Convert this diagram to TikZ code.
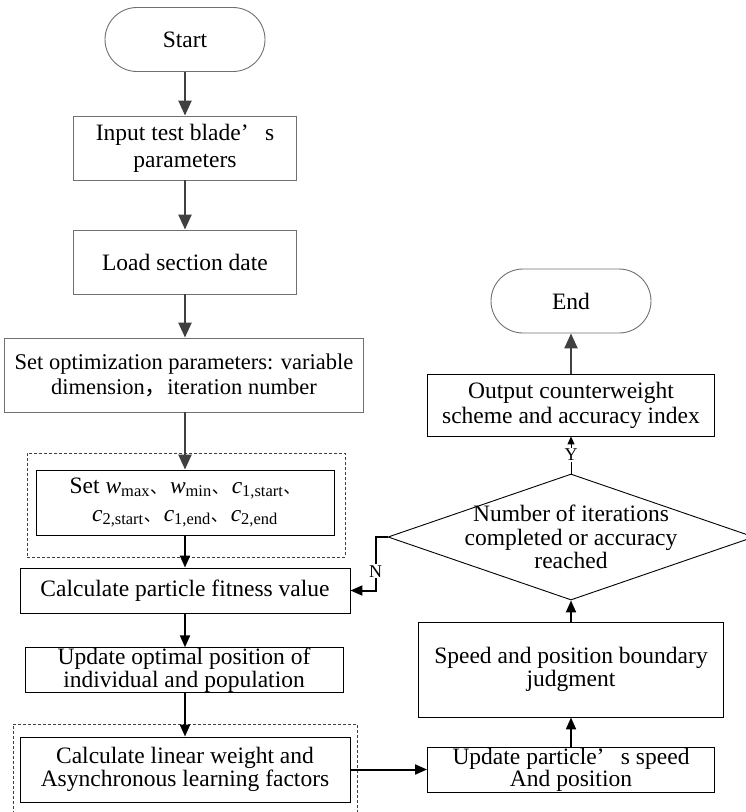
\documentclass[tikz,border=0pt]{standalone}
\usepackage{fontspec}
\setmainfont{Liberation Serif}
\newfontfamily\cjk{Noto Sans CJK SC}
\usetikzlibrary{arrows.meta,shapes.geometric}
\newcommand{\dnmark}{{\cjk\fontsize{17pt}{17pt}\selectfont 、}\hspace{3pt}}
\definecolor{arrgray}{HTML}{404040}
\definecolor{bordgray}{HTML}{707070}
\begin{document}
\begin{tikzpicture}[x=1pt,y=-1pt,
  font=\fontsize{23.5pt}{25pt}\selectfont,
  box/.style={draw=black, rectangle, inner sep=0pt, align=center, line width=0.9pt},
  gbox/.style={box, draw=bordgray},
  term/.style={draw=bordgray, rectangle, rounded corners=32pt, inner sep=0pt, line width=0.9pt, minimum width=160pt, minimum height=64pt},
  dbox/.style={draw=arrgray, dashed, dash pattern=on 3pt off 2pt, line width=0.7pt, rectangle, inner sep=0pt},
  garrow/.style={draw=arrgray, line width=2.4pt, -{Triangle[length=15pt,width=13pt]}},
  barrow/.style={draw=black, line width=2pt, -{Triangle[length=12pt,width=10pt]}},
  yarrow/.style={draw=black, line width=1pt, -{Triangle[length=8pt,width=7pt]}},
  lab/.style={fill=white, inner sep=1pt, font=\fontsize{18pt}{18pt}\selectfont}
]
\useasboundingbox (0,0) rectangle (746,812);
\clip (0,0) rectangle (746,812);

% left column
\node[term] (start) at (185,39.5) {Start};
\node[gbox, minimum width=223pt, minimum height=64pt, font=\fontsize{23.5pt}{27pt}\selectfont] (inp) at (185,148) {Input test blade’\hspace{0.7em}s\\parameters};
\node[gbox, minimum width=223pt, minimum height=64pt] (load) at (185,262) {Load section date};
\node[gbox, minimum width=359pt, minimum height=74pt, font=\fontsize{22.5pt}{25pt}\selectfont] (opt) at (184,375) {Set optimization parameters: variable\\dimension{\cjk ，}iteration number};
\node[dbox, minimum width=318pt, minimum height=104pt] (grp1) at (186,505) {};
\node[box, minimum width=298pt, minimum height=65pt, font=\fontsize{23.5pt}{28pt}\selectfont] (setw) at (185,502.5)
  {Set \textit{w}\textsubscript{max}\dnmark\textit{w}\textsubscript{min}\dnmark\textit{c}\textsubscript{1,start}{\cjk\fontsize{17pt}{17pt}\selectfont 、}\\
   \textit{c}\textsubscript{2,start}\dnmark\textit{c}\textsubscript{1,end}\dnmark\textit{c}\textsubscript{2,end}};
\node[box, minimum width=330pt, minimum height=45pt] (fit) at (185,590.5) {Calculate particle fitness value};
\node[box, minimum width=318pt, minimum height=44pt, font=\fontsize{23.5pt}{23pt}\selectfont] (upd) at (184,670) {Update optimal position of\\individual and population};
\node[dbox, minimum width=344pt, minimum height=100pt] (grp2) at (185,774) {};
\node[box, minimum width=330pt, minimum height=65pt, font=\fontsize{23.5pt}{23pt}\selectfont] (calc) at (185,769.5) {Calculate linear weight and\\Asynchronous learning factors};

% right column
\node[box, minimum width=287pt, minimum height=45pt, font=\fontsize{23.5pt}{22pt}\selectfont] (part) at (571,769.5) {Update particle’\hspace{0.7em}s speed\\And position};
\node[box, minimum width=305pt, minimum height=95pt, font=\fontsize{23.5pt}{23pt}\selectfont] (speed) at (571,669.5) {Speed and position boundary\\judgment};
\node[draw=black, diamond, inner sep=0pt, line width=0.9pt, minimum width=366pt, minimum height=126pt] (dia) at (571,537) {};
\node[align=center, inner sep=0pt, font=\fontsize{23.5pt}{23.5pt}\selectfont] (diat) at (571,537) {Number of iterations\\completed or accuracy\\reached};
\node[box, minimum width=287pt, minimum height=62pt] (out) at (571,405) {Output counterweight\\scheme and accuracy index};
\node[term] (end) at (571,301) {End};

% connectors
\draw[garrow] (start) -- (inp);
\draw[garrow] (inp) -- (load);
\draw[garrow] (load) -- (load.south |- opt.north);
\draw[garrow] (opt.south -| setw.north) -- (setw.north);
\draw[barrow] (setw) -- (fit);
\draw[barrow] (fit) -- (upd.north -| fit.south);
\draw[barrow] (upd.south -| calc.north) -- (calc);
\draw[barrow] (calc) -- (part);
\draw[barrow] (part) -- (speed);
\draw[barrow] (speed) -- (dia.south);
\draw[yarrow] (dia.north) -- (out.south) node[lab, pos=0.5] (ylab) {Y};
\draw[barrow] (dia.west) -- ++(-12,0) |- (fit.east) node[lab, pos=0.32] (nlab) {N};
\draw[garrow] (out) -- (end);
\end{tikzpicture}
\end{document}
